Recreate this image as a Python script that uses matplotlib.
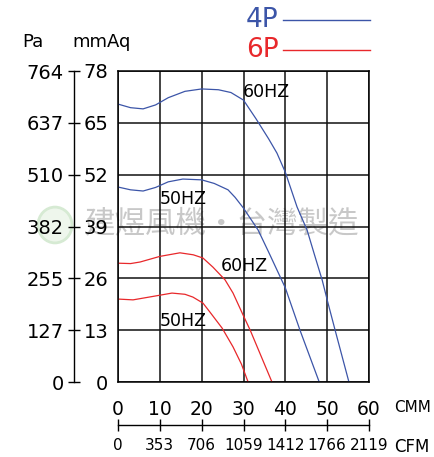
import matplotlib.pyplot as plt
from matplotlib.lines import Line2D
from matplotlib.patches import Circle

# flow in CMM, pressure in mmAq
blue60_x = [0, 3, 6, 9, 12, 16, 20, 24, 27, 30, 33, 36, 38, 40, 42.8, 45.2, 47, 48.8, 50.2, 51.9, 55.2]
blue60_y = [69.7, 68.8, 68.5, 69.5, 71.3, 72.9, 73.5, 73.3, 72.6, 70.7, 66.0, 61.0, 57.4, 52.6, 43.9, 38.1, 31.8, 25.6, 19.8, 13.0, 0]

blue50_x = [0, 3, 6, 9, 12, 15.5, 20, 23, 26.3, 28, 30, 33.5, 36, 38, 40, 43.5, 48.1]
blue50_y = [48.9, 48.2, 47.9, 48.8, 50.2, 50.9, 50.7, 49.8, 48.2, 46.3, 43.6, 38.1, 32.6, 28.1, 23.6, 13.0, 0]

red60_x = [0, 3, 5.3, 10, 14.8, 18, 20.3, 22.7, 25.6, 27.5, 29.9, 31.6, 34, 36.8]
red60_y = [29.8, 29.7, 30.1, 31.5, 32.4, 31.9, 31.1, 28.8, 25.6, 22.3, 16.8, 13.0, 7.0, 0]

red50_x = [0, 3.6, 8, 12.9, 16, 17.9, 20.3, 22, 24.9, 27.5, 29.5, 31.1]
red50_y = [20.8, 20.6, 21.4, 22.3, 22.0, 21.3, 19.8, 17.5, 13.5, 8.8, 4.5, 0]

cmm_ticks = [0, 10, 20, 30, 40, 50, 60]
cfm_labels = ['0', '353', '706', '1059', '1412', '1766', '2119']
mmaq_ticks = [0, 13, 26, 39, 52, 65, 78]
pa_labels = ['0', '127', '255', '382', '510', '637', '764']

BLUE = '#3c55a8'
RED = '#e8282b'
W, H = 434, 457

fig = plt.figure(figsize=(W / 100, H / 100), dpi=100)
ax = fig.add_axes([118 / W, 75 / H, 251 / W, 311 / H])

ax.plot(blue60_x, blue60_y, color=BLUE, lw=0.9)
ax.plot(blue50_x, blue50_y, color=BLUE, lw=0.9)
ax.plot(red60_x, red60_y, color=RED, lw=0.9)
ax.plot(red50_x, red50_y, color=RED, lw=0.9)

ax.set_xlim(0, 60)
ax.set_ylim(0, 78)
ax.set_xticks(cmm_ticks)
ax.set_yticks(mmaq_ticks)
ax.grid(True, color='#111111', lw=1.1)
for s in ax.spines.values():
    s.set_linewidth(1.1)
ax.tick_params(axis='x', length=0, pad=13, labelsize=13.5)
ax.tick_params(axis='y', length=0, pad=7, labelsize=14)

# watermark
ax.text(24.9, 39.4, '建煜風機・台灣製造', fontsize=22, color='#c8c8c8',
        family=['Noto Sans CJK TC', 'DejaVu Sans'], ha='center', va='center', zorder=0)
logo = Circle((55 / W, 1 - 225 / H), 17 / W, transform=fig.transFigure,
              facecolor='#eef6ec', edgecolor='#d6ead3', lw=2, zorder=-1)
fig.patches.append(logo)

# curve labels
for x, y, t in [(35.4, 72.7, '60HZ'), (15.5, 45.9, '50HZ'),
                (30.2, 29.1, '60HZ'), (15.5, 15.3, '50HZ')]:
    ax.text(x, y, t, fontsize=12.5, ha='center', va='center')

# Pa axis
pa = ax.secondary_yaxis(-0.175)
pa.set_yticks(mmaq_ticks)
pa.set_yticklabels(pa_labels)
pa.tick_params(direction='inout', length=9, width=1.0, pad=3, labelsize=14)
pa.spines['left'].set_linewidth(1.0)

# CFM axis
cfm = ax.secondary_xaxis(-0.138)
cfm.set_xticks(cmm_ticks)
cfm.set_xticklabels(cfm_labels)
cfm.tick_params(direction='inout', length=9, width=1.0, pad=5, labelsize=11)
cfm.spines['bottom'].set_linewidth(1.0)

fig.text(394 / W, 1 - 407 / H, 'CMM', fontsize=11, va='center', ha='left')
fig.text(394 / W, 1 - 447 / H, 'CFM', fontsize=12, va='center', ha='left')
fig.text(33 / W, 1 - 42 / H, 'Pa', fontsize=13, va='center', ha='center')
fig.text(102 / W, 1 - 42 / H, 'mmAq', fontsize=13, va='center', ha='center')

# legend
fig.text(262 / W, 1 - 20 / H, '4P', fontsize=19, color=BLUE, va='center', ha='center')
fig.text(262 / W, 1 - 50 / H, '6P', fontsize=19, color=RED, va='center', ha='center')
fig.lines.append(Line2D([283 / W, 370 / W], [1 - 20 / H] * 2, color=BLUE, lw=1.0,
                        transform=fig.transFigure))
fig.lines.append(Line2D([283 / W, 370 / W], [1 - 50 / H] * 2, color=RED, lw=1.0,
                        transform=fig.transFigure))

fig.savefig('out.png', dpi=100)
